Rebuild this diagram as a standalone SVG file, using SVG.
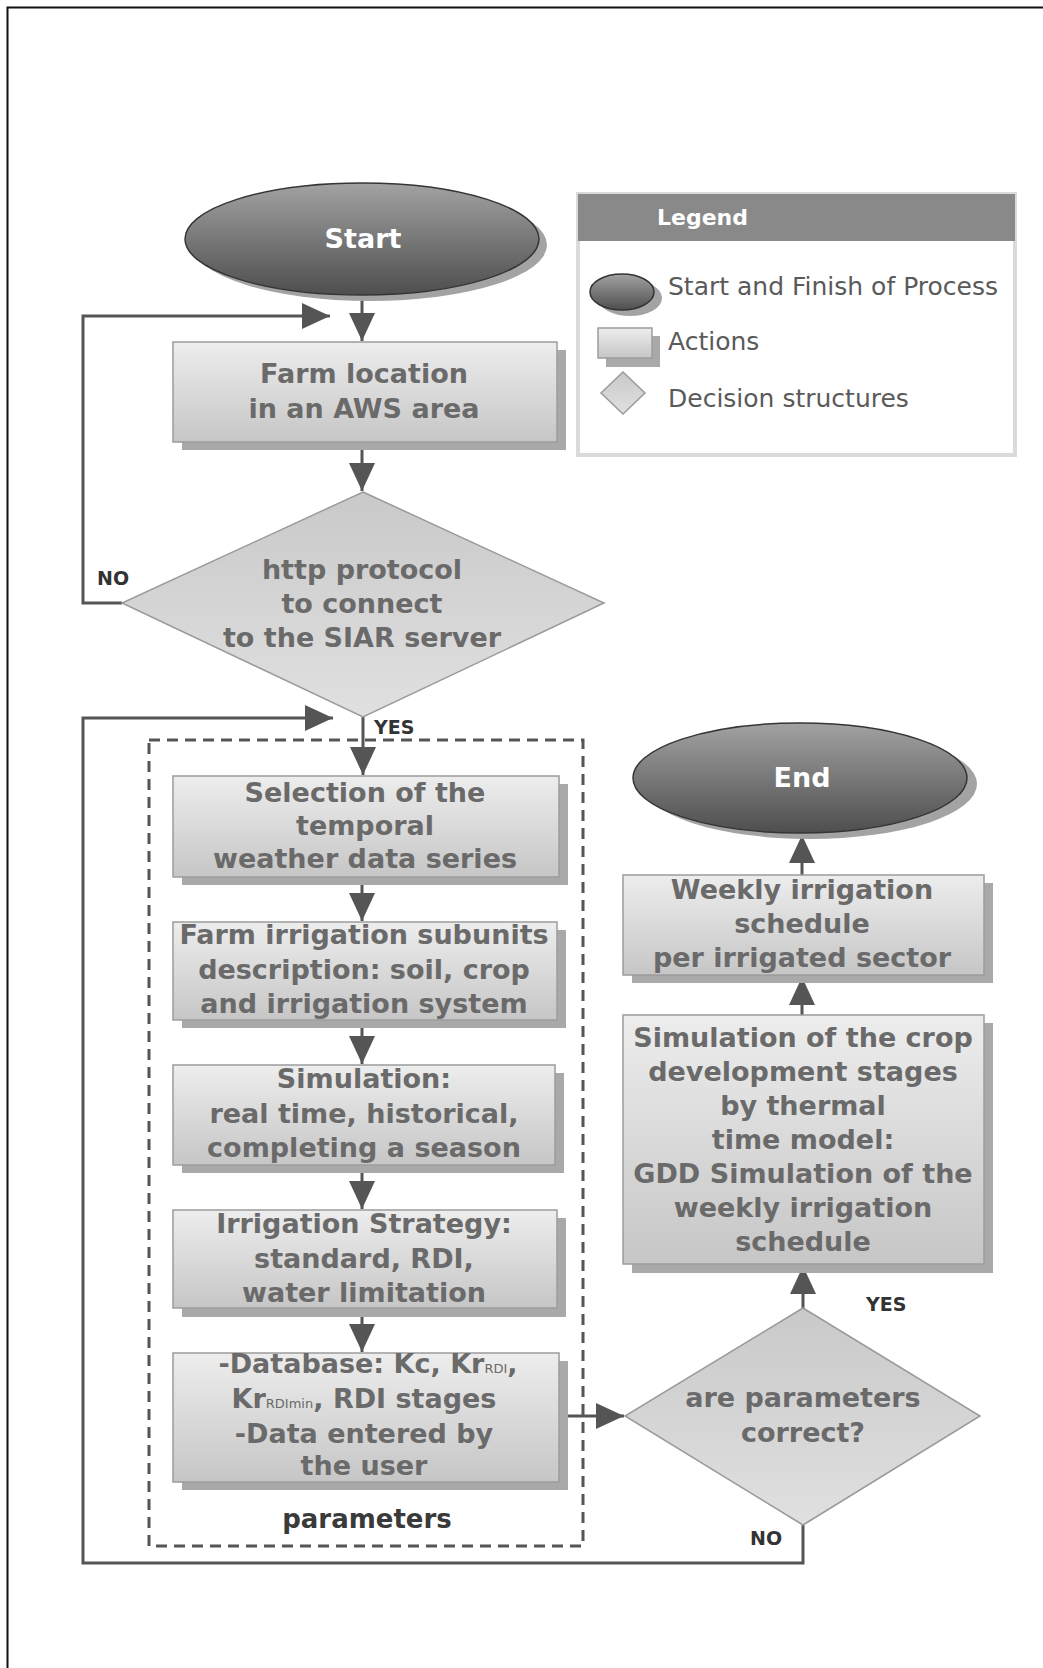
<svg xmlns="http://www.w3.org/2000/svg" width="1043" height="1668" viewBox="0 0 1043 1668">
<defs>
<style>
.box{fill:url(#gBox);stroke:#9c9c9c;stroke-width:1.5}
.sh{fill:#a9a9a9}
.ell{fill:url(#gEll);stroke:#353535;stroke-width:1.5}
.esh{fill:#a3a3a3}
.dia{fill:url(#gDia);stroke:#9a9a9a;stroke-width:1.5}
.t{font-family:"DejaVu Sans",Verdana,sans-serif;font-weight:bold;font-size:27px;fill:#6a6a6a;text-anchor:middle}
.tw{font-family:"DejaVu Sans",Verdana,sans-serif;font-weight:bold;font-size:27px;fill:#ffffff;text-anchor:middle}
.sub{font-size:13px;font-weight:normal}
.conn{fill:none;stroke:#555555;stroke-width:3}
.lbl{font-family:"DejaVu Sans",Verdana,sans-serif;font-weight:bold;font-size:19px;fill:#333333}
.leg{font-family:"DejaVu Sans",Verdana,sans-serif;font-size:25px;fill:#5a5a5a}
</style>
<linearGradient id="gBox" x1="0" y1="0" x2="0" y2="1">
<stop offset="0" stop-color="#ededed"/>
<stop offset="1" stop-color="#c6c6c6"/>
</linearGradient>
<linearGradient id="gEll" x1="0" y1="0" x2="0" y2="1">
<stop offset="0" stop-color="#a2a2a2"/>
<stop offset="1" stop-color="#4e4e4e"/>
</linearGradient>
<linearGradient id="gDia" x1="0" y1="0" x2="0" y2="1">
<stop offset="0" stop-color="#c9c9c9"/>
<stop offset="1" stop-color="#e0e0e0"/>
</linearGradient>
<marker id="arr" markerUnits="userSpaceOnUse" viewBox="0 0 28 26" markerWidth="28" markerHeight="26" refX="28" refY="13" orient="auto">
<path d="M0,0 L28,13 L0,26 z" fill="#555555"/>
</marker>
</defs>

<rect width="1043" height="1668" fill="#ffffff"/>
<path d="M7.5,1668 L7.5,7.5 L1043,7.5" fill="none" stroke="#111111" stroke-width="2"/>

<g id="legend">
<rect x="578" y="194" width="437" height="261" fill="#ffffff" stroke="#dadada" stroke-width="4"/>
<rect x="578" y="194" width="437" height="47" fill="#898989"/>
<text x="657" y="225" font-family="DejaVu Sans, Verdana, sans-serif" font-weight="bold" font-size="22" fill="#ffffff">Legend</text>
<ellipse class="esh" cx="630" cy="298" rx="32" ry="18"/>
<ellipse class="ell" cx="622" cy="292" rx="32" ry="18"/>
<text class="leg" x="668" y="295">Start and Finish of Process</text>
<rect class="sh" x="606" y="336" width="54" height="31"/>
<rect class="box" x="598" y="328" width="54" height="30"/>
<text class="leg" x="668" y="350">Actions</text>
<polygon class="dia" points="623,372 645,393 623,414 601,393"/>
<text class="leg" x="668" y="407">Decision structures</text>
</g>

<g id="connectors">
<path class="conn" d="M362,295 L362,341" marker-end="url(#arr)"/>
<path class="conn" d="M362,442 L362,491" marker-end="url(#arr)"/>
<path class="conn" d="M122,603 L83,603 L83,316 L330,316" marker-end="url(#arr)"/>
<path class="conn" d="M363,717 L363,775" marker-end="url(#arr)"/>
<path class="conn" d="M362,877 L362,921" marker-end="url(#arr)"/>
<path class="conn" d="M362,1020 L362,1064" marker-end="url(#arr)"/>
<path class="conn" d="M362,1165 L362,1209" marker-end="url(#arr)"/>
<path class="conn" d="M362,1308 L362,1352" marker-end="url(#arr)"/>
<path class="conn" d="M559,1416 L624,1416" marker-end="url(#arr)"/>
<path class="conn" d="M803,1308 L803,1266" marker-end="url(#arr)"/>
<path class="conn" d="M802,1015 L802,977" marker-end="url(#arr)"/>
<path class="conn" d="M802,875 L802,835" marker-end="url(#arr)"/>
<path class="conn" d="M803,1525 L803,1563 L83,1563 L83,718 L333,718" marker-end="url(#arr)"/>
<text class="lbl" x="97" y="585">NO</text>
<text class="lbl" x="374" y="734">YES</text>
<text class="lbl" x="866" y="1311">YES</text>
<text class="lbl" x="750" y="1545">NO</text>
</g>

<g id="parameters-group">
<rect x="149" y="740" width="434" height="806" fill="none" stroke="#555555" stroke-width="3" stroke-dasharray="11,7"/>
<text x="367" y="1528" font-family="DejaVu Sans, Verdana, sans-serif" font-weight="bold" font-size="26" fill="#3a3a3a" text-anchor="middle">parameters</text>
</g>

<g id="start">
<ellipse class="esh" cx="370" cy="245" rx="177" ry="56"/>
<ellipse class="ell" cx="362" cy="239" rx="177" ry="56"/>
<text class="tw" x="363" y="248">Start</text>
</g>

<g id="farm-location">
<rect class="sh" x="182" y="350" width="384" height="100"/>
<rect class="box" x="173" y="342" width="384" height="100"/>
<text class="t" x="364" y="383">Farm location</text>
<text class="t" x="364" y="418">in an AWS area</text>
</g>

<g id="http-decision">
<polygon class="dia" points="363,492 604,603 363,717 122,603"/>
<text class="t" x="362" y="579">http protocol</text>
<text class="t" x="362" y="613">to connect</text>
<text class="t" x="362" y="647">to the SIAR server</text>
</g>

<g id="selection">
<rect class="sh" x="182" y="784" width="386" height="101"/>
<rect class="box" x="173" y="776" width="386" height="101"/>
<text class="t" x="365" y="802">Selection of the</text>
<text class="t" x="365" y="835">temporal</text>
<text class="t" x="365" y="868">weather data series</text>
</g>

<g id="farm-irrigation">
<rect class="sh" x="182" y="930" width="384" height="98"/>
<rect class="box" x="173" y="922" width="384" height="98"/>
<text class="t" x="364" y="944">Farm irrigation subunits</text>
<text class="t" x="364" y="979">description: soil, crop</text>
<text class="t" x="364" y="1013">and irrigation system</text>
</g>

<g id="simulation">
<rect class="sh" x="182" y="1073" width="382" height="100"/>
<rect class="box" x="173" y="1065" width="382" height="100"/>
<text class="t" x="364" y="1088">Simulation:</text>
<text class="t" x="364" y="1123">real time, historical,</text>
<text class="t" x="364" y="1157">completing a season</text>
</g>

<g id="irrigation-strategy">
<rect class="sh" x="182" y="1218" width="384" height="99"/>
<rect class="box" x="173" y="1210" width="384" height="98"/>
<text class="t" x="364" y="1233">Irrigation Strategy:</text>
<text class="t" x="364" y="1268">standard, RDI,</text>
<text class="t" x="364" y="1302">water limitation</text>
</g>

<g id="database">
<rect class="sh" x="182" y="1361" width="386" height="129"/>
<rect class="box" x="173" y="1353" width="386" height="129"/>
<text class="t" x="368" y="1373">-Database: Kc, Kr<tspan class="sub">RDI</tspan>,</text>
<text class="t" x="364" y="1408">Kr<tspan class="sub">RDImin</tspan>, RDI stages</text>
<text class="t" x="364" y="1443">-Data entered by</text>
<text class="t" x="364" y="1475">the user</text>
</g>

<g id="params-decision">
<polygon class="dia" points="803,1308 980,1416 803,1525 625,1416"/>
<text class="t" x="803" y="1407">are parameters</text>
<text class="t" x="803" y="1442">correct?</text>
</g>

<g id="gdd-simulation">
<rect class="sh" x="632" y="1023" width="361" height="250"/>
<rect class="box" x="623" y="1015" width="361" height="249"/>
<text class="t" x="803" y="1047">Simulation of the crop</text>
<text class="t" x="803" y="1081">development stages</text>
<text class="t" x="803" y="1115">by thermal</text>
<text class="t" x="803" y="1149">time model:</text>
<text class="t" x="803" y="1183">GDD Simulation of the</text>
<text class="t" x="803" y="1217">weekly irrigation</text>
<text class="t" x="803" y="1251">schedule</text>
</g>

<g id="weekly-schedule">
<rect class="sh" x="632" y="883" width="361" height="100"/>
<rect class="box" x="623" y="875" width="361" height="100"/>
<text class="t" x="802" y="899">Weekly irrigation</text>
<text class="t" x="802" y="933">schedule</text>
<text class="t" x="802" y="967">per irrigated sector</text>
</g>

<g id="end">
<ellipse class="esh" cx="810" cy="784" rx="167" ry="55"/>
<ellipse class="ell" cx="800" cy="778" rx="167" ry="55"/>
<text class="tw" x="802" y="787">End</text>
</g>
</svg>
